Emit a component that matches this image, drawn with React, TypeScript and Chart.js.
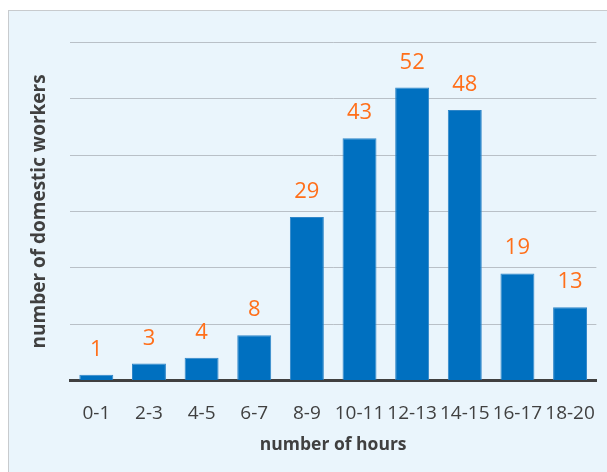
import React, { useEffect, useRef } from "react";
import { Chart, registerables } from "chart.js";

Chart.register(...registerables);

const categories = ["0-1", "2-3", "4-5", "6-7", "8-9", "10-11", "12-13", "14-15", "16-17", "18-20"];
const workers = [1, 3, 4, 8, 29, 43, 52, 48, 19, 13];
const yTitle = "number of domestic workers";
const xTitle = "number of hours";

const FONT = "'Open Sans', 'DejaVu Sans', sans-serif";

const valueLabels = {
  id: "valueLabels",
  afterDatasetsDraw(chart: any) {
    const ctx = chart.ctx;
    const meta = chart.getDatasetMeta(0);
    ctx.save();
    ctx.font = `22px ${FONT}`;
    ctx.fillStyle = "#FF6F1A";
    ctx.textAlign = "center";
    ctx.textBaseline = "alphabetic";
    meta.data.forEach((bar: any, i: number) => {
      ctx.fillText(String(workers[i]), bar.x, bar.y - 19);
    });
    ctx.restore();
  },
};

export default function App() {
  const ref = useRef<HTMLCanvasElement>(null);
  useEffect(() => {
    if (!ref.current) return;
    const chart = new Chart(ref.current, {
      type: "bar",
      data: {
        labels: categories,
        datasets: [
          {
            data: workers,
            backgroundColor: "#0070C0",
            borderColor: "#2F86C8",
            borderWidth: 1,
            barPercentage: 0.645,
            categoryPercentage: 1,
          },
        ],
      },
      options: {
        responsive: false,
        animation: false,
        layout: { padding: { left: 18, right: 11, top: 42.5, bottom: 16.5 } },
        plugins: { legend: { display: false }, tooltip: { enabled: false } },
        scales: {
          x: {
            grid: { display: false, drawTicks: false },
            border: { display: true, color: "#404040", width: 3 },
            ticks: { color: "#404040", font: { family: FONT, size: 19 }, padding: 21.6, maxRotation: 0, autoSkip: false },
            title: {
              display: true,
              text: xTitle,
              color: "#404040",
              font: { family: FONT, size: 17.5, weight: "bold" },
              padding: { top: -11.9, bottom: 0 },
            },
          },
          y: {
            min: 0,
            max: 60,
            ticks: { display: false, stepSize: 10 },
            grid: { color: "#B9C0C7", lineWidth: 1, drawTicks: false },
            border: { display: false },
            title: {
              display: true,
              text: yTitle,
              color: "#404040",
              font: { family: FONT, size: 19, weight: "bold" },
              padding: { top: 10.6, bottom: 18.6 },
            },
          },
        },
      },
      plugins: [valueLabels],
    });
    return () => chart.destroy();
  }, []);

  return (
    <div style={{ position: "fixed", left: 0, top: 0, width: 607, height: 472, background: "#fff", overflow: "hidden" }}>
      <div
        style={{
          position: "absolute",
          left: 8,
          top: 10,
          width: 640,
          height: 500,
          background: "#EAF5FC",
          border: "1.5px solid #C8CBCE",
        }}
      />
      <canvas ref={ref} width={617} height={472} style={{ position: "absolute", left: 0, top: 0 }} />
    </div>
  );
}
